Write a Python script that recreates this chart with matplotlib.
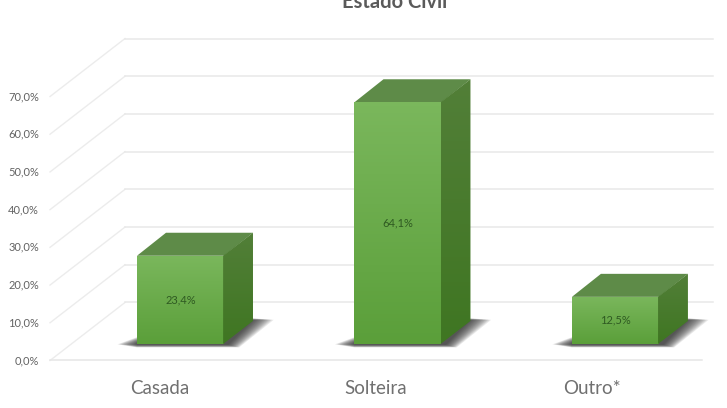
import matplotlib
matplotlib.use('Agg')
import matplotlib.pyplot as plt
import numpy as np
from matplotlib.colors import LinearSegmentedColormap
from matplotlib.patches import Polygon

categories = ['Casada', 'Solteira', 'Outro*']
values = [23.4, 64.1, 12.5]
value_labels = ['23,4%', '64,1%', '12,5%']
grid_values = [0, 10, 20, 30, 40, 50, 60, 70]
grid_labels = ['0,0%', '10,0%', '20,0%', '30,0%', '40,0%', '50,0%', '60,0%', '70,0%']

plt.rcParams['font.family'] = ['Lato', 'DejaVu Sans']

fig = plt.figure(figsize=(7.27, 4.08), dpi=100)
ax = fig.add_axes([0, 0, 1, 1])
ax.set_xlim(-0.83, 2.513)
ax.set_ylim(-12.6, 95.6)
ax.axis('off')

# sizes of the fake 3D box, in axis units
PX = 217.5  # px per category
PY = 3.77   # px per percent
wall_dx, wall_dy = 75 / PX, 58 / PY
bar_w = 87 / PX
bar_dx, bar_dy = 29 / PX, 23 / PY
base = 16.5 / PY
left = -0.6
right_front = 2.4
right_back = 2.45
label_shift = [-21 / PX, -22 / PX, -23 / PX]


def gradient_face(points, stops):
    # gradient image clipped to the polygon of the face
    xs = [p[0] for p in points]
    ys = [p[1] for p in points]
    cmap = LinearSegmentedColormap.from_list('face', stops)
    grad = np.linspace(0, 1, 64).reshape(-1, 1)
    im = ax.imshow(grad, cmap=cmap, aspect='auto', origin='upper', zorder=3,
                   extent=(min(xs), max(xs), min(ys), max(ys)))
    im.set_clip_path(Polygon(points, transform=ax.transData))
    ax.set_xlim(-0.83, 2.513)
    ax.set_ylim(-12.6, 95.6)


# grid lines: wall, floor side and the front floor line
for v, lab in zip(grid_values, grid_labels):
    ax.plot([left, left + wall_dx], [v, v + wall_dy], color='#ececec', lw=1, zorder=1)
    ax.plot([left + wall_dx, right_back], [v + wall_dy, v + wall_dy], color='#e8e8e8', lw=1.1, zorder=1)
    ax.text(left - 0.05, v, lab, ha='right', va='center', fontsize=8, color='#636363')
ax.plot([left, right_front], [0, 0], color='#e6e6e6', lw=1.1, zorder=1)

for i, (name, val, lab) in enumerate(zip(categories, values, value_labels)):
    x0 = i - bar_w / 2
    x1 = i + bar_w / 2
    y0 = base
    y1 = base + val

    # soft shadow on the floor, stacked layers that shrink towards the bar
    for k in range(14):
        t = 1 - k / 13
        ax.add_patch(Polygon([(x0 - 0.09 * t, y0 - 0.1),
                              (x0, y0 + 0.3 + 1.5 * t),
                              (x1 + bar_dx, y0 + bar_dy + 0.2 + 0.5 * t),
                              (x1 + bar_dx + 0.095 * t, y0 + bar_dy + 0.3),
                              (x1 + 0.02 + 0.05 * t, y0 - 0.2 - 0.7 * t),
                              (x0, y0 - 0.2 - 0.7 * t)],
                             closed=True, fc='#2a2a2a', ec='none', alpha=0.10, zorder=2))

    # top, front and side of the box, side last so it covers the front edge
    top = [(x0, y1), (x1, y1), (x1 + bar_dx, y1 + bar_dy), (x0 + bar_dx, y1 + bar_dy)]
    ax.add_patch(Polygon(top, closed=True, fc='#5e8b48', ec='none', zorder=3))
    front = [(x0, y0), (x1, y0), (x1, y1), (x0, y1)]
    gradient_face(front, ['#7ab75c', '#5b9f3a'])
    side = [(x1 - 0.004, y0), (x1 + bar_dx, y0 + bar_dy), (x1 + bar_dx, y1 + bar_dy), (x1 - 0.004, y1)]
    gradient_face(side, ['#527f38', '#3f7622'])

    ax.text(i, y0 + val / 2, lab, ha='center', va='center', fontsize=8, color='#2f5a22', zorder=4)
    ax.text(i + label_shift[i], -7.3, name, ha='center', va='center', fontsize=13.5, color='#707070')

ax.text(1.0 - 0.015, 95.0, 'Estado Civil', ha='center', va='center', fontsize=14.5,
        fontweight='bold', color='#5a5a5a')

fig.savefig('out.png', dpi=100)
